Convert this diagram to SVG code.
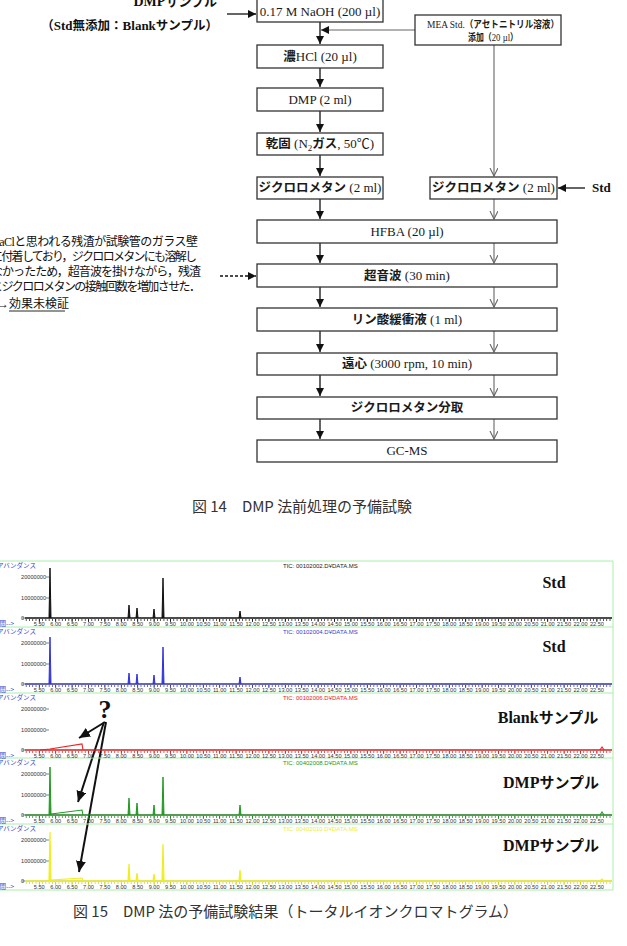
<svg xmlns="http://www.w3.org/2000/svg" xmlns:xlink="http://www.w3.org/1999/xlink" width="627" height="946" viewBox="0 0 627 946">
<style>
.box{fill:#fff;stroke:#333;stroke-width:1.3}
.bt{font-family:"Liberation Serif","Noto Sans CJK JP",serif;font-size:13px;text-anchor:middle;fill:#1a1a1a}
.j{font-family:"Noto Sans CJK JP",sans-serif;font-weight:bold;font-size:12.5px}
.lb{font-family:"Liberation Serif","Noto Sans CJK JP",serif;font-weight:bold;fill:#111}
.note{font-family:"Liberation Serif","Noto Sans CJK JP",sans-serif;font-size:12px;fill:#111}
.cap{font-family:"Noto Sans CJK JP","Liberation Serif",sans-serif;font-size:15px;fill:#333}
.cl{stroke:#111;stroke-width:1.3;fill:none}
.cr{stroke:#666;stroke-width:1.1;fill:none}
.sm{font-family:"Liberation Sans","Noto Sans CJK JP",sans-serif;font-size:5.6px;fill:#333}
.ab{font-family:"Noto Sans CJK JP",sans-serif;font-size:6.5px;fill:#3344cc}
.tic{font-family:"Liberation Sans",sans-serif;font-size:6px}
.pb{stroke:#aaeeaa;stroke-width:1;fill:none}
</style>
<defs>
<marker id="af" markerUnits="userSpaceOnUse" markerWidth="9" markerHeight="9" refX="8" refY="4" orient="auto"><path d="M0,0 L8,4 L0,8 z" fill="#111"/></marker>
<marker id="ao" markerUnits="userSpaceOnUse" markerWidth="10" markerHeight="10" refX="8" refY="4" orient="auto"><path d="M0,0 L8,4 L0,8" fill="none" stroke="#666" stroke-width="1.1"/></marker>
<marker id="ab" markerUnits="userSpaceOnUse" markerWidth="14" markerHeight="14" refX="11" refY="5" orient="auto"><path d="M0,0 L11,5 L0,10 z" fill="#111"/></marker>
<g id="xl" class="sm" text-anchor="middle">
<text x="39.3" y="65">5.50</text><text x="55.7" y="65">6.00</text><text x="72.1" y="65">6.50</text><text x="88.5" y="65">7.00</text><text x="104.9" y="65">7.50</text><text x="121.3" y="65">8.00</text><text x="137.7" y="65">8.50</text><text x="154.1" y="65">9.00</text><text x="170.5" y="65">9.50</text><text x="186.9" y="65">10.00</text><text x="203.3" y="65">10.50</text><text x="219.7" y="65">11.00</text><text x="236.1" y="65">11.50</text><text x="252.5" y="65">12.00</text><text x="268.9" y="65">12.50</text><text x="285.3" y="65">13.00</text><text x="301.7" y="65">13.50</text><text x="318.1" y="65">14.00</text><text x="334.5" y="65">14.50</text><text x="350.9" y="65">15.00</text><text x="367.3" y="65">15.50</text><text x="383.7" y="65">16.00</text><text x="400.1" y="65">16.50</text><text x="416.5" y="65">17.00</text><text x="432.9" y="65">17.50</text><text x="449.3" y="65">18.00</text><text x="465.7" y="65">18.50</text><text x="482.1" y="65">19.00</text><text x="498.5" y="65">19.50</text><text x="514.9" y="65">20.00</text><text x="531.3" y="65">20.50</text><text x="547.7" y="65">21.00</text><text x="564.1" y="65">21.50</text><text x="580.5" y="65">22.00</text><text x="596.9" y="65">22.50</text>
</g>
<g id="yl" class="sm" text-anchor="end">
<text x="46" y="17.5">20000000</text><text x="46" y="38.5">10000000</text><text x="24" y="59">0</text>
<text class="ab" x="-3" y="6.5" text-anchor="start">アバンダンス</text>
<text class="ab" x="-7" y="65" text-anchor="start">時間--&gt;</text>
<path d="M46,16 h3 M46,37 h3 M22,57 h3" stroke="#333" stroke-width="0.6"/>
</g>
</defs>
<rect width="627" height="946" fill="#fff"/>

<!-- connectors -->
<g id="connectors">
<path class="cl" d="M320,22 V44" marker-end="url(#af)"/>
<path class="cl" d="M320,68 V87" marker-end="url(#af)"/>
<path class="cl" d="M320,111 V132" marker-end="url(#af)"/>
<path class="cl" d="M320,155 V176" marker-end="url(#af)"/>
<path class="cl" d="M320,199 V219" marker-end="url(#af)"/>
<path class="cl" d="M320,243 V263" marker-end="url(#af)"/>
<path class="cl" d="M320,287 V307" marker-end="url(#af)"/>
<path class="cl" d="M320,331 V352" marker-end="url(#af)"/>
<path class="cl" d="M320,375 V396" marker-end="url(#af)"/>
<path class="cl" d="M320,419 V439" marker-end="url(#af)"/>
<path class="cr" d="M415,30 H321" stroke="#666" marker-end="url(#af)"/>
<path class="cr" d="M494,45 V176" marker-end="url(#ao)"/>
<path class="cr" d="M494,199 V219" marker-end="url(#ao)"/>
<path class="cr" d="M494,243 V263" marker-end="url(#ao)"/>
<path class="cr" d="M494,287 V307" marker-end="url(#ao)"/>
<path class="cr" d="M494,331 V352" marker-end="url(#ao)"/>
<path class="cr" d="M494,375 V396" marker-end="url(#ao)"/>
<path class="cr" d="M494,419 V439" marker-end="url(#ao)"/>
<path class="cl" d="M585,188 H558" marker-end="url(#af)"/>
<path class="cl" d="M227,14 H256" marker-end="url(#af)"/>
<path class="cl" d="M220,276 H256" stroke-dasharray="3,2" marker-end="url(#af)"/>
<path d="M105,722 L79,738" stroke="#111" stroke-width="2" fill="none" marker-end="url(#ab)"/>
<path d="M104,722 L78,802" stroke="#111" stroke-width="2" fill="none" marker-end="url(#ab)"/>
<path d="M106,722 L79,872" stroke="#111" stroke-width="2" fill="none" marker-end="url(#ab)"/>
</g>

<!-- nodes -->
<g id="n-naoh"><rect class="box" x="257" y="-2" width="126" height="24"/><text class="bt" x="320" y="16">0.17 M NaOH (200 µl)</text></g>
<g id="n-mea"><rect class="box" x="415" y="15" width="146" height="30"/>
<text class="bt" x="427" y="28" style="text-anchor:start" textLength="132" lengthAdjust="spacingAndGlyphs"><tspan style="font-size:11px">MEA Std.</tspan><tspan class="j" style="font-size:10px;font-weight:600">（アセトニトリル溶液）</tspan></text>
<text class="bt" x="468" y="41" style="text-anchor:start" textLength="50" lengthAdjust="spacingAndGlyphs"><tspan class="j" style="font-size:10px;font-weight:600">添加（</tspan><tspan style="font-size:11px">20 µl</tspan><tspan class="j" style="font-size:10px;font-weight:600">）</tspan></text></g>
<g id="n-hcl"><rect class="box" x="257" y="45" width="126" height="23"/><text class="bt" x="320" y="61"><tspan class="j">濃</tspan>HCl (20 µl)</text></g>
<g id="n-dmp"><rect class="box" x="257" y="88" width="126" height="23"/><text class="bt" x="320" y="104">DMP (2 ml)</text></g>
<g id="n-dry"><rect class="box" x="257" y="133" width="126" height="22"/><text class="bt" x="320" y="148"><tspan class="j">乾固</tspan> (N<tspan dy="3" style="font-size:9px">2</tspan><tspan class="j" dy="-3">ガス</tspan>, 50℃)</text></g>
<g id="n-dcm1"><rect class="box" x="257" y="177" width="126" height="22"/><text class="bt" x="320" y="192"><tspan class="j">ジクロロメタン</tspan> (2 ml)</text></g>
<g id="n-dcm2"><rect class="box" x="430" y="177" width="127" height="22"/><text class="bt" x="493.5" y="192"><tspan class="j">ジクロロメタン</tspan> (2 ml)</text></g>
<g id="n-hfba"><rect class="box" x="257" y="220" width="300" height="23"/><text class="bt" x="407" y="236">HFBA (20 µl)</text></g>
<g id="n-us"><rect class="box" x="257" y="264" width="300" height="23"/><text class="bt" x="407" y="280"><tspan class="j">超音波</tspan> (30 min)</text></g>
<g id="n-buf"><rect class="box" x="257" y="308" width="300" height="23"/><text class="bt" x="407" y="324"><tspan class="j">リン酸緩衝液</tspan> (1 ml)</text></g>
<g id="n-cent"><rect class="box" x="257" y="353" width="300" height="22"/><text class="bt" x="407" y="368"><tspan class="j">遠心</tspan> (3000 rpm, 10 min)</text></g>
<g id="n-frac"><rect class="box" x="257" y="397" width="300" height="22"/><text class="bt" x="407" y="412"><tspan class="j">ジクロロメタン分取</tspan></text></g>
<g id="n-gcms"><rect class="box" x="257" y="440" width="300" height="22"/><text class="bt" x="407" y="455">GC-MS</text></g>

<g id="n-dmp-sample"><text class="lb" x="217" y="6" text-anchor="end" font-size="14">DMP<tspan style="font-family:'Noto Sans CJK JP',sans-serif;font-size:13px">サンプル</tspan></text>
<text class="lb" x="218" y="30" text-anchor="end" font-size="13"><tspan style="font-family:'Noto Sans CJK JP',sans-serif;font-size:12.5px">（</tspan>Std<tspan style="font-family:'Noto Sans CJK JP',sans-serif;font-size:12.5px">無添加：</tspan>Blank<tspan style="font-family:'Noto Sans CJK JP',sans-serif;font-size:12.5px">サンプル）</tspan></text></g>
<g id="n-std"><text class="lb" x="592" y="192" font-size="13">Std</text></g>

<g id="n-note">
<text class="note" x="-9" y="246" textLength="207" lengthAdjust="spacing">NaClと思われる残渣が試験管のガラス壁</text>
<text class="note" x="-9" y="261" textLength="206" lengthAdjust="spacing">に付着しており，ジクロロメタンにも溶解し</text>
<text class="note" x="-9" y="276" textLength="210" lengthAdjust="spacing">なかったため，超音波を掛けながら，残渣</text>
<text class="note" x="-9" y="291" textLength="210" lengthAdjust="spacing">とジクロロメタンの接触回数を増加させた．</text>
<text class="note" x="-3" y="308">→効果未検証</text>
<path d="M9,311 H65" stroke="#111" stroke-width="0.9"/>
</g>

<text class="cap" x="192" y="512" textLength="220" lengthAdjust="spacing">図 14　DMP 法前処理の予備試験</text>

<!-- chromatograms -->
<g id="chromatogram">
<path class="pb" d="M0,561 H613 V890 H0 M0,627 H613 M0,693 H613 M0,758 H613 M0,824 H613"/>

<g id="panel1" transform="translate(0,561)">
<use xlink:href="#yl"/><use xlink:href="#xl"/>
<text class="tic" x="283" y="6.5" fill="#222">TIC: 00102002.D¥DATA.MS</text>
<path d="M25,57 H612" stroke="#111" stroke-width="1.3"/>
<path d="M25,59 H612" stroke="#111" stroke-width="2.2" stroke-dasharray="0.7 2.58" stroke-dashoffset="2.45"/>
<path d="M25,59.5 H612" stroke="#111" stroke-width="3" stroke-dasharray="0.8 15.6" stroke-dashoffset="2.5"/>
<path d="M49,57 L50,7 L51,57 M128,57 L129,44 L130,57 M136,57 L137,47 L138,57 M153,57 L154,48 L155,57 M162,57 L163,17 L164,57 M239,57 L240,50 L241,57" stroke="#111" stroke-width="1" fill="#111"/>
<text class="lb" x="554" y="27" text-anchor="middle" font-size="16">Std</text>
</g>

<g id="panel2" transform="translate(0,627)">
<use xlink:href="#yl"/><use xlink:href="#xl"/>
<text class="tic" x="283" y="6.5" fill="#3344cc">TIC: 00102004.D¥DATA.MS</text>
<path d="M25,57 H612" stroke="#333399" stroke-width="1.3"/>
<path d="M25,59 H612" stroke="#333399" stroke-width="2.2" stroke-dasharray="0.7 2.58" stroke-dashoffset="2.45"/>
<path d="M25,59.5 H612" stroke="#333399" stroke-width="3" stroke-dasharray="0.8 15.6" stroke-dashoffset="2.5"/>
<path d="M49,57 L50,10 L51,57 M128,57 L129,46 L130,57 M136,57 L137,47 L138,57 M153,57 L154,48 L155,57 M162,57 L163,20 L164,57 M239,57 L240,50 L241,57" stroke="#3333dd" stroke-width="1" fill="#3333dd"/>
<text class="lb" x="554" y="25" text-anchor="middle" font-size="16">Std</text>
</g>

<g id="panel3" transform="translate(0,693)">
<use xlink:href="#yl"/><use xlink:href="#xl"/>
<text class="tic" x="283" y="6.5" fill="#ee2222">TIC: 00102006.D¥DATA.MS</text>
<path d="M25,57 H612" stroke="#cc2222" stroke-width="1.3"/>
<path d="M25,59 H612" stroke="#cc2222" stroke-width="2.2" stroke-dasharray="0.7 2.58" stroke-dashoffset="2.45"/>
<path d="M25,59.5 H612" stroke="#cc2222" stroke-width="3" stroke-dasharray="0.8 15.6" stroke-dashoffset="2.5"/>
<path d="M40,57 L50,56 L82,51 L83,57 M600,57 L602,54 L604,57" stroke="#ee2222" stroke-width="1.1" fill="none"/>
<text x="548" y="30" text-anchor="middle" font-size="16" class="lb">Blank<tspan style="font-family:'Noto Sans CJK JP',sans-serif;font-size:15px">サンプル</tspan></text>
<text x="105" y="25" text-anchor="middle" font-size="26" class="lb">?</text>
</g>

<g id="panel4" transform="translate(0,758)">
<use xlink:href="#yl"/><use xlink:href="#xl"/>
<text class="tic" x="283" y="6.5" fill="#229922">TIC: 00402008.D¥DATA.MS</text>
<path d="M25,57 H612" stroke="#1f7a1f" stroke-width="1.3"/>
<path d="M25,59 H612" stroke="#1f7a1f" stroke-width="2.2" stroke-dasharray="0.7 2.58" stroke-dashoffset="2.45"/>
<path d="M25,59.5 H612" stroke="#1f7a1f" stroke-width="3" stroke-dasharray="0.8 15.6" stroke-dashoffset="2.5"/>
<path d="M49,57 L50,9 L51,57 M128,57 L129,40 L130,57 M136,57 L137,45 L138,57 M153,57 L154,47 L155,57 M162,57 L163,19 L164,57 M239,57 L240,47 L241,57" stroke="#229922" stroke-width="1" fill="#229922"/>
<path d="M51,56 L82,52 L83,57 M600,57 L602,54 L604,57" stroke="#229922" stroke-width="1.1" fill="none"/>
<text x="551" y="30" text-anchor="middle" font-size="16" class="lb">DMP<tspan style="font-family:'Noto Sans CJK JP',sans-serif;font-size:15px">サンプル</tspan></text>
</g>

<g id="panel5" transform="translate(0,824)">
<use xlink:href="#yl"/><use xlink:href="#xl"/>
<text class="tic" x="283" y="6.5" fill="#eeee33">TIC: 00402010.D¥DATA.MS</text>
<path d="M25,57 H612" stroke="#dddd22" stroke-width="1.3"/>
<path d="M25,59 H612" stroke="#cccc22" stroke-width="2.2" stroke-dasharray="0.7 2.58" stroke-dashoffset="2.45"/>
<path d="M25,59.5 H612" stroke="#cccc22" stroke-width="3" stroke-dasharray="0.8 15.6" stroke-dashoffset="2.5"/>
<path d="M49,57 L50,8 L51,57 M128,57 L129,40 L130,57 M136,57 L137,49 L138,57 M153,57 L154,50 L155,57 M162,57 L163,20 L164,57 M239,57 L240,46 L241,57" stroke="#eeee22" stroke-width="1.2" fill="#eeee22"/>
<path d="M51,56 L82,54 L83,57 M600,57 L602,55 L604,57" stroke="#eeee22" stroke-width="1.1" fill="none"/>
<text x="551" y="27" text-anchor="middle" font-size="16" class="lb">DMP<tspan style="font-family:'Noto Sans CJK JP',sans-serif;font-size:15px">サンプル</tspan></text>
</g>
</g>

<text class="cap" x="73" y="917" textLength="445" lengthAdjust="spacing">図 15　DMP 法の予備試験結果（トータルイオンクロマトグラム）</text>
</svg>
